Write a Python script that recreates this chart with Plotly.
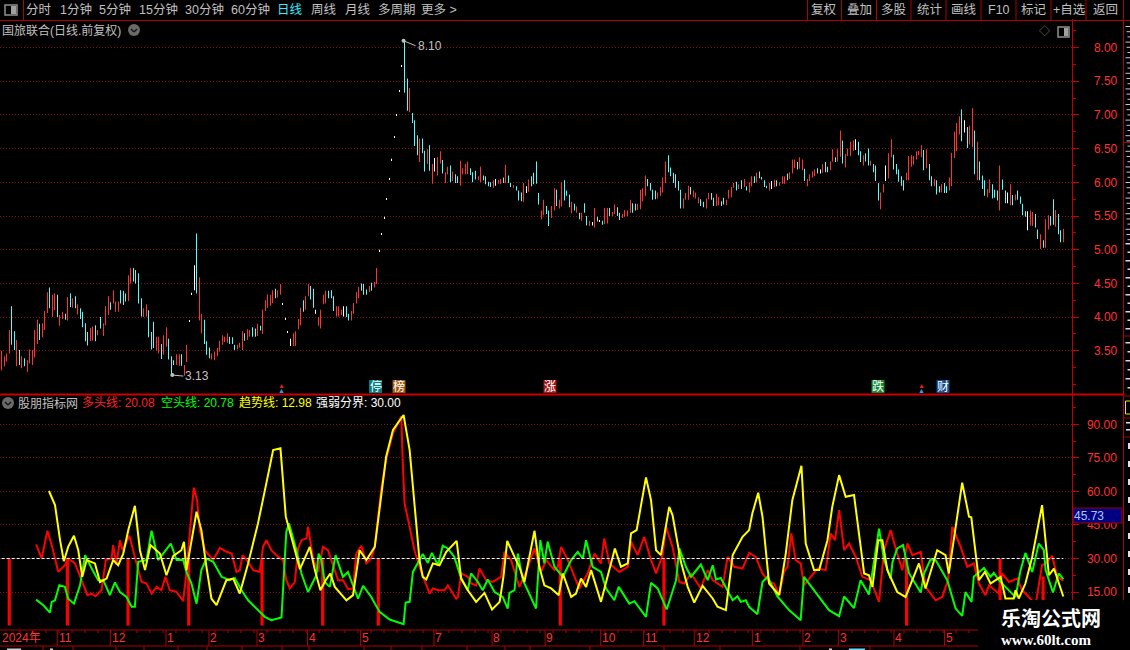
#!/usr/bin/env python3
"""国旅联合 daily bars with the 股朋指标网 indicator panel (Plotly HTML)."""

import numpy as np
import plotly.graph_objects as go

W, H = 1130, 650
CJK = "Liberation Sans, Noto Sans CJK SC"

# price bars: high, low and colour per trading day
bar_hi = [
    3.50, 3.42, 3.46, 3.81, 4.16, 3.79, 3.66, 3.51, 3.42, 3.39,
    3.36, 3.52, 3.51, 3.81, 3.96, 3.90, 3.91, 4.09, 4.37, 4.44,
    4.33, 4.35, 4.33, 4.03, 4.08, 4.05, 4.30, 4.35, 4.28, 4.31,
    4.19, 4.13, 4.08, 3.91, 3.78, 3.84, 3.86, 3.88, 3.81, 4.00,
    3.91, 4.16, 4.31, 4.22, 4.40, 4.23, 4.23, 4.40, 4.39, 4.35,
    4.62, 4.73, 4.73, 4.70, 4.65, 4.28, 4.13, 4.19, 4.10, 3.78,
    3.93, 3.71, 3.71, 3.60, 3.73, 3.85, 3.68, 3.42, 3.36, 3.45,
    3.45, 3.45, 3.29, 3.59, 3.93, 4.34, 4.77, 5.24, 4.59, 4.05,
    3.96, 3.64, 3.55, 3.46, 3.49, 3.54, 3.65, 3.73, 3.71, 3.76,
    3.71, 3.70, 3.59, 3.59, 3.62, 3.79, 3.76, 3.82, 3.81, 3.85,
    3.83, 3.90, 3.87, 4.11, 4.25, 4.34, 4.33, 4.40, 4.42, 4.40,
    4.49, 4.19, 3.97, 3.77, 3.68, 3.76, 3.79, 3.97, 4.14, 4.25,
    4.31, 4.49, 4.46, 4.42, 4.11, 4.00, 4.11, 4.33, 4.39, 4.39,
    4.40, 4.31, 4.16, 4.16, 4.11, 4.16, 4.16, 4.05, 4.09, 4.21,
    4.37, 4.45, 4.50, 4.49, 4.41, 4.46, 4.51, 4.52, 4.73,
    4.98, 5.22, 5.47, 5.74, 6.04, 6.33, 6.66, 6.99, 7.35, 7.72,
    8.10, 7.54, 7.40, 7.03, 6.92, 6.70, 6.65, 6.65, 6.47, 6.49,
    6.55, 6.27, 6.36, 6.37, 6.46, 6.33, 6.15, 6.23, 6.25, 6.16,
    6.12, 6.09, 6.32, 6.21, 6.27, 6.31, 6.21, 6.15, 6.17, 6.09,
    6.23, 6.10, 6.09, 6.01, 6.00, 6.03, 6.05, 6.03, 6.05, 6.07,
    6.26, 6.10, 5.99, 5.96, 5.94, 5.88, 5.85, 5.99, 5.94, 6.04,
    6.09, 6.14, 6.31, 5.84, 5.58, 5.74, 5.65, 5.58, 5.65, 5.91,
    5.89, 5.74, 6.00, 6.03, 5.88, 5.82, 5.71, 5.68, 5.64, 5.55,
    5.55, 5.69, 5.50, 5.43, 5.41, 5.62, 5.49, 5.44, 5.43, 5.62,
    5.62, 5.62, 5.56, 5.67, 5.63, 5.55, 5.53, 5.59, 5.58, 5.74,
    5.69, 5.68, 5.68, 5.89, 5.91, 6.10, 6.05, 5.99, 5.89, 5.88,
    5.85, 5.93, 6.07, 6.31, 6.40, 6.22, 6.14, 6.12, 6.02, 5.89,
    5.76, 5.84, 5.95, 5.93, 5.88, 5.85, 5.78, 5.75, 5.71, 5.76,
    5.84, 5.84, 5.77, 5.83, 5.78,
    5.72, 5.77, 5.74, 5.89, 5.93, 5.99, 6.01, 5.97, 6.03, 6.05,
    5.94, 6.00, 6.09, 6.09, 6.14, 6.16, 6.08, 6.03, 5.95, 5.99,
    6.02, 6.04, 6.03, 6.00, 6.09, 6.09, 6.13, 6.15, 6.34, 6.34,
    6.30, 6.37, 6.34, 6.20, 6.05, 6.12, 6.16, 6.19, 6.21, 6.19,
    6.27, 6.30, 6.23, 6.31, 6.49, 6.37, 6.49, 6.77, 6.62, 6.42,
    6.50, 6.60, 6.62, 6.64, 6.60, 6.46, 6.40, 6.43, 6.50, 6.32,
    6.27, 6.25, 5.99, 5.85, 5.97, 6.25, 6.43, 6.64, 6.41, 6.27,
    6.19, 6.09, 6.03, 6.14, 6.39, 6.40, 6.39, 6.46, 6.47, 6.55,
    6.48, 6.49, 6.27, 6.09, 6.05, 6.03, 5.94, 5.97, 5.99, 5.94,
    6.07, 6.44, 6.75, 6.88, 6.98, 7.08, 6.92, 6.82, 6.84, 7.10,
    6.77, 6.60, 6.31, 6.10, 6.03, 5.90, 6.04, 5.97, 5.89, 5.88,
    6.25, 6.04, 5.88, 5.85, 5.97, 5.81, 5.82, 5.88, 5.79, 5.68,
    5.57, 5.57, 5.58, 5.56, 5.53, 5.30, 5.23, 5.14, 5.45, 5.51,
    5.50, 5.75, 5.59, 5.53, 5.29, 5.31,
]
bar_lo = [
    3.21, 3.27, 3.34, 3.46, 3.59, 3.51, 3.27, 3.29, 3.24, 3.27,
    3.19, 3.31, 3.29, 3.40, 3.60, 3.66, 3.70, 3.81, 4.06, 4.13,
    4.00, 4.10, 4.00, 3.87, 3.97, 3.96, 3.95, 4.15, 4.14, 4.13,
    4.04, 3.97, 3.85, 3.64, 3.58, 3.64, 3.65, 3.64, 3.73, 3.83,
    3.72, 3.88, 4.03, 4.11, 4.20, 4.08, 4.08, 4.20, 4.18, 4.23,
    4.24, 4.50, 4.53, 4.50, 4.20, 4.01, 4.00, 4.01, 3.70, 3.52,
    3.54, 3.50, 3.46, 3.38, 3.44, 3.56, 3.37, 3.14, 3.29, 3.29,
    3.28, 3.28, 3.13, 3.33, 3.93, 4.34, 4.40, 4.35, 3.95, 3.76,
    3.60, 3.44, 3.39, 3.37, 3.36, 3.42, 3.49, 3.59, 3.63, 3.62,
    3.60, 3.60, 3.51, 3.52, 3.55, 3.51, 3.65, 3.66, 3.71, 3.71,
    3.71, 3.72, 3.80, 3.75, 4.09, 4.14, 4.17, 4.21, 4.28, 4.29,
    4.33, 4.19, 3.97, 3.77, 3.57, 3.57, 3.57, 3.82, 3.88, 4.08,
    4.11, 4.31, 4.26, 4.14, 4.05, 3.87, 3.83, 4.19, 4.20, 4.28,
    4.28, 4.09, 4.01, 4.01, 4.03, 4.01, 4.00, 3.95, 3.95, 4.05,
    4.20, 4.28, 4.39, 4.33, 4.33, 4.37, 4.39, 4.44, 4.49,
    4.98, 5.22, 5.47, 5.74, 6.04, 6.33, 6.66, 6.99, 7.35, 7.72,
    7.33, 7.06, 7.04, 6.88, 6.54, 6.40, 6.30, 6.43, 6.16, 6.27,
    6.17, 5.98, 6.16, 6.10, 6.28, 6.13, 5.99, 6.12, 6.00, 6.02,
    5.99, 5.99, 5.95, 6.12, 6.12, 6.12, 6.11, 6.00, 6.04, 6.03,
    6.00, 6.03, 5.97, 5.94, 5.93, 5.92, 5.95, 5.98, 5.97, 5.99,
    5.99, 5.99, 5.93, 5.92, 5.88, 5.73, 5.72, 5.71, 5.84, 5.86,
    5.94, 5.97, 5.98, 5.67, 5.45, 5.51, 5.53, 5.35, 5.47, 5.58,
    5.65, 5.61, 5.64, 5.73, 5.80, 5.63, 5.54, 5.58, 5.55, 5.45,
    5.43, 5.55, 5.36, 5.35, 5.36, 5.33, 5.42, 5.41, 5.37, 5.38,
    5.39, 5.50, 5.50, 5.53, 5.50, 5.44, 5.47, 5.49, 5.50, 5.55,
    5.55, 5.58, 5.59, 5.60, 5.72, 5.80, 5.94, 5.88, 5.74, 5.75,
    5.76, 5.80, 5.85, 5.99, 6.15, 6.09, 5.99, 5.92, 5.88, 5.61,
    5.61, 5.74, 5.74, 5.82, 5.78, 5.76, 5.69, 5.65, 5.63, 5.61,
    5.75, 5.74, 5.65, 5.65, 5.66,
    5.65, 5.67, 5.66, 5.76, 5.78, 5.92, 5.88, 5.90, 5.90, 5.93,
    5.88, 5.85, 5.94, 5.99, 6.00, 6.06, 6.04, 5.93, 5.91, 5.88,
    5.90, 5.93, 5.94, 5.95, 5.98, 5.98, 6.03, 6.05, 6.13, 6.21,
    6.19, 6.20, 6.18, 6.02, 5.94, 6.02, 6.07, 6.09, 6.13, 6.13,
    6.14, 6.15, 6.15, 6.18, 6.31, 6.30, 6.31, 6.38, 6.28, 6.22,
    6.39, 6.39, 6.47, 6.48, 6.40, 6.30, 6.25, 6.31, 6.25, 6.25,
    6.15, 6.02, 5.73, 5.60, 5.85, 6.02, 6.06, 6.37, 6.19, 6.12,
    6.01, 5.95, 5.88, 6.03, 6.03, 6.23, 6.26, 6.34, 6.40, 6.37,
    6.18, 6.21, 6.03, 5.94, 5.94, 5.82, 5.85, 5.85, 5.84, 5.84,
    5.88, 5.94, 6.36, 6.46, 6.71, 6.61, 6.74, 6.51, 6.56, 6.52,
    6.12, 6.03, 6.03, 5.90, 5.80, 5.78, 5.84, 5.76, 5.77, 5.73,
    5.58, 5.89, 5.69, 5.69, 5.66, 5.66, 5.73, 5.74, 5.68, 5.51,
    5.49, 5.29, 5.36, 5.35, 5.33, 5.16, 5.01, 5.03, 5.03, 5.30,
    5.36, 5.37, 5.34, 5.23, 5.11, 5.11,
]
bar_col = (
    "rrrrccrcrc" "rrrrrcrrrc" "rrcrrcrcrc" "rccccrrcrc" "rrrcrrrccc"
    "rrccccrrcc" "crrcrrcccr" "rcrrwwwcrr" "cccrrrrrrr" "cccrrrcrrc"
    "crcrrrrrcr" "rwwwwrrrrc" "rrccwrrrrc" "ccrrrwccrr" "rrcccrcrr"
    "wwwwwwwwww"
    "ccrcccrccr" "crwrrcrrcr" "ccrrrrcccr" "rccccrwrrc" "rccrcccrwr"
    "ccccrrccrr" "crrcccrcrc" "rccrwrcwcr" "rcrrccrrrr" "ccrrrrcccc"
    "rrrrcccccc" "rrrcrrrccr" "rccrr"
    "ccrrrrcrcr" "crrcrccccr" "wrcrrrcrrr" "crrcrrrrcw" "rccrrcrrcr"
    "rrrwccrccr" "cccrrwrrcc" "cccrrrrrrr" "crccrccrcc" "rrrrrcwcrr"
    "crcccrrccc" "rccwrcrccc" "cwrrccrcrr" "ccrccr"
)

month_idx = [22, 43, 65, 82, 101, 121, 142, 171, 194, 215, 237, 254, 274, 297, 317, 331, 353, 373]
month_txt = ["11", "12", "1", "2", "3", "4", "5", "7", "8", "9", "10", "11", "12", "1", "2", "3", "4", "5"]

# red sticks of the indicator panel
stick_idx = [3, 26, 50, 74, 103, 127, 149, 221, 262, 358, 395, 412]
stick_top = [30, 30, 30, 30, 30, 30, 30, 30, 30, 30, 30, 22]

# 多头线
red_idx = [
    13.6, 15.8, 18.1, 19.8, 22.4, 25, 26.3, 29, 31.6, 33.9, 35.6, 37.1, 39.5, 41.2, 43.5, 44.1, 45.4, 46.8, 47.8,
    50.5, 52.7, 54.4, 55.3, 57.3, 59.3, 61.3, 63.2, 64.8, 66.5, 69.2, 71.8, 72.9, 74.4, 76, 77.3, 78.4, 80.4,
    83.7, 86.3, 89, 91, 92.9, 94.2, 95.3, 97.5, 99.5, 102.1, 103.4, 104.7, 106.7, 109.4, 111.3, 112.6, 114, 116,
    117.3, 118.6, 120.6, 121.2, 123.2, 125.2, 127.1, 129.1, 131.1, 133.1, 135.1, 137, 139, 140.3, 142.3, 144.3,
    146.2, 147.6, 150.2, 152.2, 154.8, 157.4, 158.1, 158.7, 159.4, 161.4, 163.3, 166, 169.3, 170.6, 172.6, 175.2,
    176.5, 179.8, 180.5, 181.8, 184.4, 185.7, 187.7, 189, 191.7, 194.3, 197.6, 198.9, 201.5, 204.8, 207.5, 210.8,
    213.4, 215.4, 218.7, 220, 221.3, 224, 228.5, 231.8, 234.5, 237.1, 238.4, 240.4, 244.4, 247.7, 249, 251.6,
    254.2, 256.9, 258.9, 261.5, 262.8, 265.4, 268.1, 270, 272.7, 276.6, 279.3, 281.3, 285.2, 287.2, 289.8, 293.1,
    295.7, 298.3, 301, 303.6, 305.6, 307.6, 309.5, 310.9, 312.4, 314.1, 316.1, 317.4, 320.1, 322.7, 326, 328,
    329.7, 331.3, 333.3, 335.2, 337.9, 340.5, 343.8, 347.1, 349.1, 351.7, 353.7, 356.3, 358.3, 360.3, 363.6, 365.5,
    369.5, 372.1, 374.4, 376.1, 379.4, 382, 384.6, 386.6, 389.2, 390.6, 394.5, 395.8, 398.5, 401.8, 403.7, 407,
    409, 411.6, 413, 415.6, 417.6, 420,
]
red_val = [
    36.3, 30, 42.4, 36, 24, 27, 30, 27.8, 20.3, 13.6, 14.3, 13.1, 15.8, 29.3, 30, 36, 27.3, 38.2, 33.7,
    40.2, 30.7, 23.3, 19.6, 18.8, 14.3, 17.3, 15.8, 21.8, 15.8, 15.1, 11, 21.8, 42.7, 61.7, 56.1, 42.7, 33.7,
    29.3, 34.8, 33, 32.2, 24, 24.8, 31.5, 28.5, 24.8, 24, 35.2, 38.2, 33.7, 30.7, 29.3, 20.3, 16.6, 19.6,
    34.5, 38.2, 39, 44.2, 30, 24, 35.2, 33.7, 27, 20.3, 20.3, 16.3, 16.6, 32.2, 35.7, 27.8,
    30, 35.2, 61.4, 74.8, 86, 92, 93.5, 72.5, 54.6, 44.2, 33.7, 24, 14.3, 16.6, 15.8, 15.8,
    18, 12, 12.8, 23.3, 21.8, 18.8, 18, 25.5, 20.3, 19.5, 21.8, 33, 29.3, 17.3, 24, 34.5,
    24, 29.3, 24.8, 26.3, 35.2, 29.3, 16.6, 23.3, 32.2, 27.8, 39, 27.8, 24, 26.3, 37.5, 31.5,
    39.7, 29.3, 23.3, 31.5, 44.2, 35.2, 19.5, 18.8, 23.3, 16.6, 24.8, 20.3, 17.3, 30.7, 26.3, 25.5,
    32.5, 30.7, 23.3, 19.5, 18.8, 13.6, 24, 26.3, 41.2, 29.3, 27.8, 18, 21.8, 25.5, 24.8, 41.2,
    38.2, 51.6, 33.7, 36.7, 30.7, 21.8, 20.3, 10.6, 33.7, 42.7, 34.5, 24.8, 36.7, 31.5, 33, 17.3,
    11.3, 12.8, 20.3, 44.2, 35.2, 26.3, 27.8, 18.8, 13.6, 18, 14.3, 23.3, 19.5, 21, 15.8, 12,
    9, 27, 27.8, 31.2, 21.8, 20.08,
]

# 空头线
green_idx = [
    13.6, 16.5, 19.1, 19.8, 21.1, 22.8, 25, 26.3, 28.6, 31, 33, 35.6, 38.2, 40.2, 42.8, 44.8, 46.8, 49.4, 51.4,
    52.7, 54, 57.3, 59.3, 61.9, 63.9, 66.9, 69.2, 71.8, 73.1, 75.1, 77.1, 79, 81, 83.7, 87, 90.2, 92.2, 94.9,
    97.5, 102.1, 104.1, 106.7, 110.7, 112.6, 113.7, 116.6, 118.6, 121.2, 124.5, 125.4, 126.5, 127.8, 129.8, 132.1,
    135, 137, 141, 143, 146.2, 149.5, 153.5, 159, 159.8, 161.4, 162.7, 166.6, 168.6, 170.2, 172.6, 174.5, 176.5,
    179.1, 181.8, 184.4, 185.7, 188.4, 190.3, 192.3, 195, 198.2, 200.2, 200.9, 202.9, 204.2, 206.2, 208.1, 211.4,
    213.1, 214.7, 216, 218.7, 222, 225.3, 227.9, 229.9, 231.2, 233.8, 237.1, 239.1, 242.4, 244.1, 248.3, 250.3,
    254.9, 256.9, 259.5, 263.1, 266.8, 268.1, 270.7, 272.7, 276.6, 279.3, 281.3, 282.6, 284.5, 287.8, 289.2, 291.1,
    292.4, 294.4, 295.7, 299, 301, 303, 306.9, 311.5, 316.1, 317.4, 323.4, 327.3, 331.3, 333.3, 337.2, 339.8,
    343.1, 345.8, 347.1, 349.1, 351.7, 352.4, 354.3, 356.6, 359, 363.6, 364.9, 367.5, 369.5, 374.1, 377.4, 380,
    381.3, 383.7, 384.6, 388.6, 391.2, 392.5, 394.5, 397.1, 401.1, 403.1, 405, 407.7, 410.3, 412.3, 413, 415.9,
    418.2, 420,
]
green_val = [
    11.6, 9.1, 5.8, 10.6, 11.3, 18, 17.3, 12, 9.8, 18, 31.5, 25.5, 20.3, 20.3, 13.6, 19.3, 15, 12.8, 8.4,
    8.4, 28.5, 29.3, 42.4, 29.3, 32.2, 36.7, 29.3, 29.3, 24, 18.8, 9.8, 24.8, 30, 28.5, 21.8, 20.3, 21.3, 15.8,
    11.3, 6.1, 3.9, 2.4, 3.6, 41.9, 45.7, 33.7, 23.3, 15, 22.5, 32.2, 29.3, 19.5, 17.3, 31.5,
    21.8, 24, 12, 17.8, 12.8, 6.1, 2.7, 0.6, 10.3, 10.6, 24, 32, 28, 32.5, 27, 35.7, 34.5,
    30.7, 21, 15.8, 23.3, 19.5, 15.8, 20.6, 15, 12.8, 7.6, 14.6, 15.8, 32.2, 20.3, 15.8, 7.6,
    38.2, 27.8, 37.5, 26.3, 21.8, 29.3, 33, 30, 38.2, 26.3, 24, 16.6, 11.3, 17.3, 9.8, 10.9,
    3.9, 19.1, 16.6, 7.2, 20.3, 34.5, 26.3, 21.8, 27.3, 20.3, 27, 20.6, 21.3, 14.3, 11.3, 13.1,
    10.6, 11.3, 8.4, 5.1, 19.5, 21.8, 13, 6.9, 2.4, 21.8, 12.8, 6.9, 4.2, 13, 7.8, 20.3,
    13.9, 33.7, 43.4, 29.3, 21, 28.2, 34.5, 36, 23.3, 14.8, 23.3, 29.6, 29.3, 20.3, 7.6, 4.3,
    15, 10.6, 21.8, 25.8, 21.8, 23.6, 20.3, 17.3, 12.8, 24.8, 32.5, 24, 36.7, 33.7, 24.8, 14.8,
    23.3, 20.78,
]

# 趋势线
yellow_idx = [
    18.7, 21.1, 23.1, 24.6, 26.3, 28.6, 30.3, 31.9, 33.6, 36.9, 38.9, 41.5, 44.1, 46.1, 48.1, 50.1, 52.7, 54.7,
    56.7, 58.9, 62.6, 65.2, 67.9, 71.1, 72.1, 73.1, 77.1, 79, 81, 83, 85, 88.9, 91.6, 94.2, 97.5, 101.4, 104.7,
    107.4, 110.3, 112.4, 116, 118, 121.9, 123.9, 126.1, 128.2, 130, 131.8, 136.4, 139, 141.6, 144.3, 147.6,
    149.5, 152.1, 154.8, 159, 161.4, 163.3, 165.3, 166.6, 168, 170.6, 173.2, 175.9, 180, 181.8, 184.4, 187.7,
    191, 194, 197, 198.5, 200, 202.9, 204.8, 206.8, 210.8, 212.7, 214.7, 217.4, 220.4, 222, 225.3, 227.2, 229.2,
    231.2, 233.2, 237.1, 240.4, 242.6, 245, 247.7, 249, 251.2, 254.9, 256.9, 258.9, 260.8, 264.1, 265.4, 268.7,
    271.4, 274, 277.3, 281.3, 283.2, 286.5, 289.2, 293.1, 295.7, 297, 299.3, 301, 303.6, 307.6, 310.2, 312.8,
    316.4, 318.1, 321.4, 323.4, 326.7, 328.6, 331.3, 333.9, 337.2, 341.2, 343.1, 344.5, 346.8, 348.4, 350.4,
    354.3, 357.6, 362.9, 365.5, 370.1, 373.4, 374.7, 380, 382.7, 383.6, 386.6, 389, 391.2, 395.2, 397.1, 400.4,
    401.1, 402.4, 405, 407.7, 411.6, 414.3, 416.3, 418.2, 420,
]
yellow_val = [
    60.2, 53.9, 38.2, 28.8, 35.2, 40.2, 33.7, 21.8, 29.3, 27.8, 19.5, 21, 29.3, 27, 32.2, 42.7, 53.6, 33.7,
    24.8, 36, 32.2, 22.5, 31.2, 33.7, 37.5, 24.8, 50.9, 42.7, 26.3, 12, 9.1, 20.3, 21, 14.3, 27.8, 45.7, 63.6,
    78.5, 79.3, 48.7, 33.7, 25.2, 35.2, 24.8, 15.8, 20.3, 23.3, 17.3, 11.3, 13.6, 33.7, 29.3, 35.2,
    52.4, 75.5, 87.5, 94.2, 78.5, 56.1, 29.3, 21.8, 20.6, 27.8, 27, 33, 37.9, 21, 15.8, 10.6,
    14.6, 7.2, 10.6, 21.8, 37.9, 30.7, 26.3, 19.5, 42.4, 26.3, 18, 16.6, 13.6, 23.3, 12.8, 14.3, 21,
    17.3, 24.8, 10.6, 24.8, 34.5, 26.3, 27.8, 41.2, 42.7, 66.3, 56.1, 33.7, 31.5, 53.1, 49.4, 28.5,
    17.3, 10.3, 17.8, 12.1, 8.4, 6.9, 31.5, 39.7, 42.7, 50.2, 59.4, 48.7, 18.8, 13.6, 32.2, 56.1,
    71.5, 36.7, 24.8, 24.8, 38.2, 53.1, 67.3, 57.6, 58.4, 23.3, 22.5, 17.3, 38.2, 38.2, 24.8,
    15, 12.8, 27.8, 16.6, 33.7, 31.5, 23.3, 63.9, 48.7, 48.4, 20.3, 24, 18.8, 21.8, 12.1, 12.1,
    15.8, 12.1, 18.8, 30.7, 53.9, 22.5, 25.5, 19.5, 12.98,
]

THRESHOLD = 30.0

RED_DARK = "#b00000"
GRID = "#8c1010"
TICK_RED = "#ff3232"
GRAY = "#c0c0c0"
BAR_COLORS = {"r": "#ff3232", "c": "#54fcfc", "w": "#ffffff"}

# x position of bar 0 is 1.67px, bar 420 is 1063.3px, plot ends at 1071.5px
PER_BAR = (1063.3 - 1.67) / 420


def px(x):
    return x / W


def py(y):
    return 1 - y / H


def label(text, x, y, color=GRAY, size=12.5, anchor="center", **kw):
    # annotation boxes carry about 2px of padding on the left
    if anchor == "left":
        x -= 2
    return dict(
        text=text, xref="paper", yref="paper", x=px(x), y=py(y), showarrow=False,
        xanchor=anchor, yanchor="middle", font=dict(family=CJK, size=size, color=color), **kw
    )


def line(x0, y0, x1, y1, color=RED_DARK, width=1):
    return dict(
        type="line", xref="paper", yref="paper", x0=px(x0), y0=py(y0), x1=px(x1), y1=py(y1),
        line=dict(color=color, width=width), layer="above",
    )


def rect(x0, y0, x1, y1, fill, border=None):
    return dict(
        type="rect", xref="paper", yref="paper", x0=px(x0), y0=py(y0), x1=px(x1), y1=py(y1),
        fillcolor=fill, line=dict(color=border or fill, width=1 if border else 0), layer="above",
    )


def round_icon(cx, cy):
    return [
        dict(type="circle", xref="paper", yref="paper", x0=px(cx - 6), y0=py(cy - 6), x1=px(cx + 6), y1=py(cy + 6),
             fillcolor="#6a6a6a", line=dict(width=0), layer="above"),
        line(cx - 3, cy - 1, cx, cy + 2, color="#161616", width=1.5),
        line(cx, cy + 2, cx + 3, cy - 1, color="#161616", width=1.5),
    ]


def build_figure():
    hi, lo = np.array(bar_hi), np.array(bar_lo)
    idx = np.linspace(0, 420, len(hi))
    # snap each bar to a whole screen pixel so they stay one pixel wide
    snapped = (np.floor(1.67 + PER_BAR * idx) + 0.5 - 1.67) / PER_BAR
    colors = [BAR_COLORS[c] for c in bar_col[: len(hi)]]

    fig = go.Figure()
    fig.add_trace(go.Bar(
        x=snapped, y=np.maximum(hi - lo, 0.02), base=lo, width=1 / PER_BAR,
        marker=dict(color=colors, line=dict(width=0)), yaxis="y", hoverinfo="skip",
    ))
    fig.add_trace(go.Bar(
        x=stick_idx, y=stick_top, width=1.25,
        marker=dict(color="#ff0000", line=dict(width=0)), yaxis="y2", hoverinfo="skip",
    ))
    for xs, ys, col in [
        (red_idx, red_val, "#ff0000"),
        (green_idx, green_val, "#00ff00"),
        (yellow_idx, yellow_val, "#ffff00"),
    ]:
        fig.add_trace(go.Scatter(x=xs, y=ys, mode="lines", line=dict(color=col, width=2), yaxis="y2"))
    fig.add_trace(go.Scatter(
        x=[0, 420], y=[THRESHOLD, THRESHOLD], mode="lines", yaxis="y2",
        line=dict(color="#ffffff", width=1, dash="3px,2px"),
    ))

    x_range = [-1.67 / PER_BAR, (1071.5 - 1.67) / PER_BAR]

    shapes, notes = [], []

    # toolbar
    shapes += [line(0, 20.5, 1130, 20.5), line(23.5, 0, 23.5, 20.5)]
    shapes += [
        dict(type="rect", xref="paper", yref="paper", x0=px(5), y0=py(5), x1=px(17), y1=py(15),
             line=dict(color="#909090", width=1.5), fillcolor="#000", layer="above"),
        rect(11, 6, 16, 14, "#a0a0a0"),
    ]
    for txt, x in [("分时", 39), ("1分钟", 76), ("5分钟", 115), ("15分钟", 158), ("30分钟", 204), ("60分钟", 250),
                   ("周线", 324), ("月线", 358), ("多周期", 397), ("更多 >", 439)]:
        notes.append(label(txt, x, 10))
    notes.append(label("日线", 290, 10, color="#40e8ff"))
    for sep in [807.5, 841.5, 876.5, 911, 946, 981, 1016, 1051, 1086, 1123.5]:
        shapes.append(line(sep, 0, sep, 20.5))
    for txt, x in [("复权", 824), ("叠加", 859), ("多股", 894), ("统计", 929), ("画线", 964), ("F10", 999),
                   ("标记", 1034), ("+自选", 1069), ("返回", 1105)]:
        notes.append(label(txt, x, 10))

    # panel titles
    notes.append(label("国旅联合(日线.前复权)", 2, 30, anchor="left", size=12))
    shapes += round_icon(134, 30)
    notes.append(label("◇", 1044, 31, color="#808080", size=11))
    shapes += [
        dict(type="rect", xref="paper", yref="paper", x0=px(1058), y0=py(27), x1=px(1069), y1=py(37),
             line=dict(color="#909090", width=1.5), fillcolor="#000", layer="above"),
        rect(1064, 28, 1068, 36, "#a0a0a0"),
    ]
    shapes += round_icon(8, 403)
    notes.append(label("股朋指标网", 18, 403, anchor="left", size=12))
    notes.append(label("多头线: 20.08", 82, 403, color="#ff2020", anchor="left", size=12))
    notes.append(label("空头线: 20.78", 161, 403, color="#00ff00", anchor="left", size=12))
    notes.append(label("趋势线: 12.98", 239, 403, color="#ffff00", anchor="left", size=12))
    notes.append(label("强弱分界: 30.00", 316, 403, color="#ffffff", anchor="left", size=12))

    # high / low flags
    notes.append(dict(
        text="8.10", x=159, y=8.10, xref="x", yref="y", ax=12, ay=5, showarrow=True, xanchor="left",
        arrowhead=6, arrowsize=1, arrowwidth=1, arrowcolor=GRAY, font=dict(family=CJK, size=12, color=GRAY),
    ))
    notes.append(dict(
        text="3.13", x=67.5, y=3.14, xref="x", yref="y", ax=11, ay=1, showarrow=True, xanchor="left",
        arrowhead=6, arrowsize=1, arrowwidth=1, arrowcolor=GRAY, font=dict(family=CJK, size=12, color=GRAY),
    ))

    # event tags above the divider
    for txt, x, bg in [("停", 375.5, "#008080"), ("榜", 399, "#a05a10"), ("涨", 550, "#a01818"),
                       ("跌", 878, "#108a30"), ("财", 943, "#104a90")]:
        shapes.append(rect(x - 6.5, 380, x + 6.5, 393, bg))
        notes.append(label(txt, x, 386.5, color="#ffffff", size=12))
    for x in [281, 921]:
        notes.append(label("▲", x, 386, color="#e02020", size=7))
        notes.append(label("▲", x, 390, color="#30a0f0", size=7))

    # dividers and the clipped column at the right edge (only glyph fragments show)
    shapes += [line(0, 394.5, 1123, 394.5, color="#c80000", width=2), line(1123.5, 0, 1123.5, 600)]
    shapes += [line(1123.5, 142.5, 1130, 142.5), line(1123.5, 336, 1130, 336), line(1123.5, 396, 1130, 396),
               line(1123.5, 418, 1130, 418), line(1123.5, 437, 1130, 437)]
    for k, y in enumerate(np.arange(26, 240, 5.2)):
        shapes.append(rect(1125.5 + (k % 3), y, 1130, y + 1, "#c8c8c8"))
    for k, y in enumerate(np.arange(243, 332, 8.5)):
        shapes.append(rect(1125.5 + (k % 2) * 2, y, 1130, y + 1.5, "#d8d8d8"))
    for k, y in enumerate(np.arange(342, 392, 9)):
        shapes.append(rect(1125.5 + (k % 2) * 2, y, 1130, y + 1.5, "#d8d8d8"))
    shapes.append(dict(type="rect", xref="paper", yref="paper", x0=px(1125.5), y0=py(401), x1=px(1131), y1=py(414),
                       line=dict(color="#e8e800", width=1), fillcolor="#000", layer="above"))
    shapes.append(rect(1126, 422, 1130, 423.5, "#e0e0e0"))
    shapes.append(rect(1126, 429, 1130, 430.5, "#e0e0e0"))
    for y in range(443, 600, 18):
        shapes.append(rect(1128, y, 1130, y + 6, "#e0e0e0"))

    # current value box
    shapes.append(rect(1073, 508, 1122, 523, "#000080", "#a00000"))
    notes.append(label("45.73", 1074, 515.5, color="#a8c8ff", anchor="left", size=12))

    # date strip
    shapes += [line(0, 630, 978, 630), line(0, 646, 978, 646)]
    for x in range(20, 978, 13):
        shapes.append(line(x, 630, x, 633))
    notes.append(label("2024年", 2, 638, color=TICK_RED, anchor="left", size=12))
    for i, txt in zip(month_idx, month_txt):
        shapes.append(dict(type="line", xref="x", yref="paper", x0=i, x1=i, y0=py(646), y1=py(630),
                           line=dict(color=RED_DARK, width=1), layer="above"))
        notes.append(dict(text=txt, xref="x", yref="paper", x=i - 0.3, y=py(638), showarrow=False, xanchor="left",
                          yanchor="middle", font=dict(family=CJK, size=12, color=TICK_RED)))
    for x in [43, 73, 116, 144, 178, 207, 242, 282, 309, 364, 391, 422, 467, 505, 530, 590, 664, 720, 800, 870]:
        shapes.append(line(x, 646, x, 650))
    shapes += [rect(7, 648.5, 21, 650, "#d0d0d0"), rect(50, 648.5, 53, 650, "#d0d0d0"),
               rect(829, 648.5, 832, 650, "#d0d0d0"), rect(849, 648.5, 865, 650, "#60e0ff")]

    # watermark sits on top of everything in the corner
    shapes.append(rect(978, 600, 1130, 650, "#000000"))
    notes.append(label("<b>乐淘公式网</b>", 1051, 619, color="#ffffff", size=20))
    notes.append(dict(
        text="<b>www.60lt.com</b>", xref="paper", yref="paper", x=px(1046), y=py(640), showarrow=False,
        xanchor="center", yanchor="middle", font=dict(family="Liberation Serif", size=15, color="#ffffff"),
    ))

    axis = dict(
        side="right", anchor="x", showline=True, linecolor="#c00000", linewidth=1, zeroline=False,
        showgrid=True, gridcolor=GRID, griddash="1px,2px", gridwidth=1,
        ticks="outside", ticklen=6, tickcolor="#c00000", tickwidth=1,
        tickfont=dict(family="Liberation Sans", size=12, color=TICK_RED), tickformat=".2f",
    )
    fig.update_layout(
        width=W, height=H, margin=dict(l=0, r=0, t=0, b=0), autosize=False,
        paper_bgcolor="#000000", plot_bgcolor="#000000", showlegend=False, barmode="overlay",
        hovermode=False,
        xaxis=dict(domain=[0, 1071.5 / W], range=x_range, visible=False, fixedrange=True),
        yaxis=dict(
            domain=[py(394), py(19)], range=[2.859, 8.423], tickvals=[3.5, 4, 4.5, 5, 5.5, 6, 6.5, 7, 7.5, 8],
            minor=dict(ticks="outside", ticklen=3, tickcolor="#c00000", dtick=0.25, tick0=0, showgrid=False),
            ticklabelstandoff=13, **axis,
        ),
        yaxis2=dict(
            domain=[py(627), py(395)], range=[-0.65, 103.15], tickvals=[15, 30, 45, 60, 75, 90],
            minor=dict(ticks="outside", ticklen=3, tickcolor="#c00000", dtick=7.5, tick0=0, showgrid=False),
            ticklabelstandoff=6, **axis,
        ),
        shapes=shapes,
        annotations=notes,
    )
    return fig


def main():
    fig = build_figure()
    fig.write_html(
        "out.html",
        config=dict(displayModeBar=False),
        post_script="document.body.style.margin='0';document.body.style.overflow='hidden';",
    )


if __name__ == "__main__":
    main()
